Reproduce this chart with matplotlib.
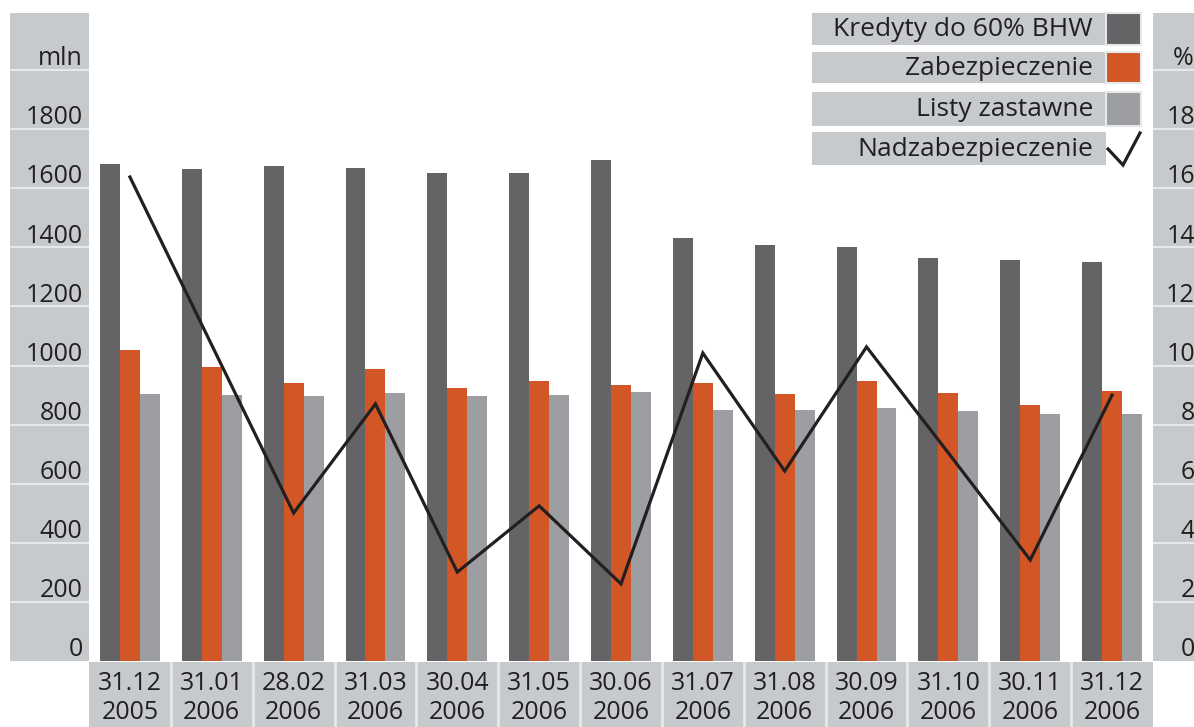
import matplotlib
matplotlib.use("Agg")
import matplotlib.pyplot as plt
import matplotlib.transforms as mtrans
import numpy as np

# data
dates = ["31.12\n2005", "31.01\n2006", "28.02\n2006", "31.03\n2006", "30.04\n2006",
         "31.05\n2006", "30.06\n2006", "31.07\n2006", "31.08\n2006", "30.09\n2006",
         "31.10\n2006", "30.11\n2006", "31.12\n2006"]
kredyty = [1683, 1665, 1675, 1668, 1651, 1651, 1695, 1431, 1408, 1401, 1364, 1357, 1350]
zabezpieczenie = [1052, 995, 941, 988, 924, 947, 934, 941, 903, 947, 907, 866, 914]
listy = [903, 900, 897, 907, 897, 900, 910, 849, 849, 856, 846, 836, 836]
nadzabezpieczenie = [16.38, 10.69, 5.01, 8.70, 3.01, 5.25, 2.61, 10.42, 6.43, 10.63, 7.04, 3.42, 9.0]

left_ticks = [0, 200, 400, 600, 800, 1000, 1200, 1400, 1600, 1800]
right_ticks = [0, 2, 4, 6, 8, 10, 12, 14, 16, 18]
legend_labels = ["Kredyty do 60% BHW", "Zabezpieczenie", "Listy zastawne", "Nadzabezpieczenie"]

c_dark = "#646466"
c_orange = "#D35627"
c_light = "#9D9EA2"
c_panel = "#C6CACC"
c_text = "#231F20"

plt.rcParams['font.family'] = ['Open Sans', 'DejaVu Sans']

W, H = 1194, 727
fig = plt.figure(figsize=(W / 100, H / 100), dpi=100)


def px_rect(x0, y0, x1, y1):
    return [x0 / W, 1 - y1 / H, (x1 - x0) / W, (y1 - y0) / H]


# main plot
ax = fig.add_axes(px_rect(89, 13, 1153, 661))
x = np.arange(len(dates))
bw = 0.244
ax.bar(x - bw, kredyty, bw, color=c_dark, linewidth=0)
ax.bar(x, zabezpieczenie, bw, color=c_orange, linewidth=0)
ax.bar(x + bw, listy, bw, color=c_light, linewidth=0)
ax.set_xlim(-0.5, len(dates) - 0.5)
ax.set_ylim(0, 2193)
ax.axis('off')

ax2 = ax.twinx()
ax2.plot(x, nadzabezpieczenie, color=c_text, lw=2.3, solid_joinstyle='miter')
ax2.set_ylim(0, 21.93)
ax2.axis('off')

# left axis panel
axl = fig.add_axes(px_rect(10, 13, 89, 661), sharey=ax)
axl.set_facecolor(c_panel)
for s in axl.spines.values():
    s.set_visible(False)
axl.tick_params(left=False, bottom=False, labelleft=False, labelbottom=False)
tl = mtrans.blended_transform_factory(axl.transAxes, axl.transData)
for v in left_ticks:
    if v > 0:
        axl.axhline(v, color="#E6E8E9", lw=1.5)
    axl.text(0.92, v + 16, str(v), transform=tl, ha='right', va='baseline',
             fontsize=18, color=c_text)
axl.axhline(2000, color="#E6E8E9", lw=1.5)
axl.text(0.92, 2016, "mln", transform=tl, ha='right', va='baseline', fontsize=18, color=c_text)

# right axis panel
axr = fig.add_axes(px_rect(1153, 13, 1194, 661), sharey=ax2)
axr.set_facecolor(c_panel)
for s in axr.spines.values():
    s.set_visible(False)
axr.tick_params(left=False, right=False, bottom=False, labelleft=False,
                labelright=False, labelbottom=False)
tr = mtrans.blended_transform_factory(axr.transAxes, axr.transData)
for v in right_ticks:
    if v > 0:
        axr.axhline(v, color="#E6E8E9", lw=1.5)
    axr.text(1.02, v + 0.16, str(v), transform=tr, ha='right', va='baseline',
             fontsize=18, color=c_text, clip_on=False)
axr.axhline(20, color="#E6E8E9", lw=1.5)
axr.text(1.0, 20.16, "%", transform=tr, ha='right', va='baseline', fontsize=18,
         color=c_text, clip_on=False)

# category label boxes
axb = fig.add_axes(px_rect(89, 662, 1153, 727), sharex=ax)
axb.set_facecolor(c_panel)
for s in axb.spines.values():
    s.set_visible(False)
axb.tick_params(left=False, bottom=False, labelleft=False, labelbottom=False)
axb.set_ylim(0, 1)
for i in range(len(dates) - 1):
    axb.axvline(i + 0.5, color="#E6E8E9", lw=2)
for i, d in enumerate(dates):
    axb.text(i, 0.45, d, ha='center', va='center', fontsize=18, color=c_text,
             linespacing=1.2)

# legend, drawn in pixel space
lg = fig.add_axes([0, 0, 1, 1], facecolor='none')
lg.set_xlim(0, W)
lg.set_ylim(H, 0)
lg.axis('off')
rows = [(13, 45), (52, 83), (92, 126), (132, 165)]
swatches = [c_dark, c_orange, c_light, None]
for (y0, y1), lab, col in zip(rows, legend_labels, swatches):
    lg.add_patch(plt.Rectangle((812, y0), 294, y1 - y0, color=c_panel, lw=0))
    lg.text(1093, (y0 + y1) / 2 + 1, lab, ha='right', va='center', fontsize=19, color=c_text)
    if col is not None:
        lg.add_patch(plt.Rectangle((1106, y0), 35, y1 - y0, facecolor=col,
                                   edgecolor="#E6E8E9", lw=1.5))
lg.plot([1108, 1123, 1140], [149, 165, 133], color=c_text, lw=2.3, solid_joinstyle='miter')

fig.savefig("out.png", dpi=100)
